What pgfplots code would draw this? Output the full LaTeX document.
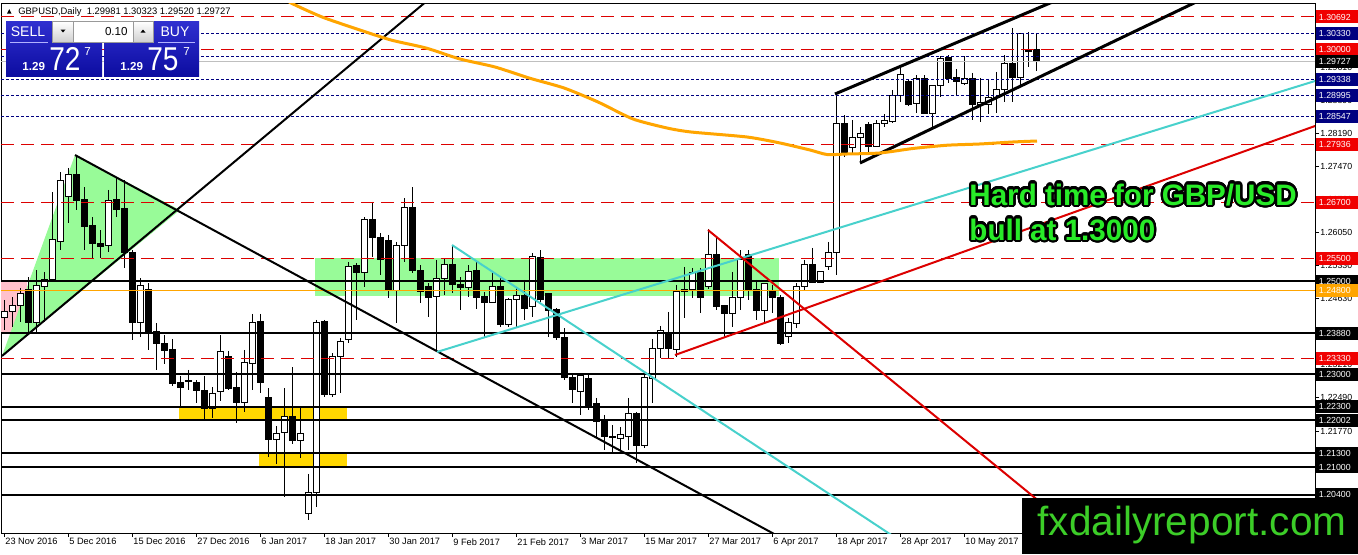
\documentclass[border=0pt]{standalone}
\usepackage{graphicx}
\usepackage{pgfplots}
\pgfplotsset{compat=1.18}
\usepackage{pgfplotstable}
\usepackage{fontspec}
\setmainfont{Liberation Sans}
\usepackage{contour}
\contourlength{1.1pt}
\contournumber{32}
\definecolor{mtred}{RGB}{220,0,0}
\definecolor{mtlab}{RGB}{240,0,0}
\definecolor{mtnavy}{RGB}{0,0,128}
\definecolor{mtcyan}{RGB}{72,209,204}
\definecolor{mtorange}{RGB}{255,165,0}
\definecolor{mtgreen}{RGB}{152,251,152}
\definecolor{mtgold}{RGB}{255,215,0}
\definecolor{mtpink}{RGB}{255,192,203}
\definecolor{txtgreen}{RGB}{40,235,40}
\definecolor{wmgreen}{RGB}{60,205,40}
\definecolor{pbA}{RGB}{48,48,208}
\definecolor{pbB}{RGB}{12,12,160}

\pgfplotstableread{
i o h l c
0 1.2421 1.2460 1.2395 1.2434
1 1.2434 1.2466 1.2401 1.2447
2 1.2447 1.2486 1.2412 1.2473
3 1.2483 1.2509 1.2389 1.2412
4 1.2412 1.2524 1.2389 1.2490
5 1.2488 1.2520 1.2412 1.2503
6 1.2503 1.2692 1.2500 1.2589
7 1.2585 1.2735 1.2567 1.2718
8 1.2682 1.2744 1.2626 1.2729
9 1.2729 1.2772 1.2654 1.2673
10 1.2677 1.2703 1.2567 1.2619
11 1.2621 1.2638 1.2550 1.2582
12 1.2582 1.2610 1.2550 1.2574
13 1.2576 1.2697 1.2563 1.2675
14 1.2677 1.2725 1.2638 1.2654
15 1.2656 1.2718 1.2529 1.2561
16 1.2563 1.2567 1.2374 1.2412
17 1.2412 1.2507 1.2380 1.2490
18 1.2483 1.2496 1.2352 1.2391
19 1.2391 1.2410 1.2309 1.2365
20 1.2365 1.2384 1.2322 1.2350
21 1.2352 1.2376 1.2275 1.2279
22 1.2281 1.2296 1.2227 1.2272
23 1.2287 1.2309 1.2266 1.2285
24 1.2283 1.2287 1.2238 1.2264
25 1.2264 1.2296 1.2201 1.2225
26 1.2225 1.2272 1.2206 1.2259
27 1.2262 1.2384 1.2242 1.2348
28 1.2337 1.2350 1.2266 1.2270
29 1.2272 1.2305 1.2195 1.2238
30 1.2238 1.2352 1.2218 1.2324
31 1.2322 1.2430 1.2266 1.2412
32 1.2414 1.2430 1.2259 1.2281
33 1.2249 1.2270 1.2122 1.2160
34 1.2160 1.2188 1.2106 1.2173
35 1.2175 1.2270 1.2035 1.2208
36 1.2208 1.2315 1.2150 1.2156
37 1.2158 1.2229 1.2119 1.2173
38 1.1999 1.2085 1.1986 1.2046
39 1.2044 1.2417 1.2014 1.2412
40 1.2414 1.2417 1.2251 1.2257
41 1.2257 1.2345 1.2251 1.2339
42 1.2339 1.2378 1.2259 1.2371
43 1.2374 1.2542 1.2367 1.2531
44 1.2533 1.2539 1.2417 1.2518
45 1.2518 1.2638 1.2488 1.2632
46 1.2632 1.2671 1.2552 1.2595
47 1.2595 1.2604 1.2514 1.2546
48 1.2587 1.2600 1.2464 1.2481
49 1.2481 1.2585 1.2410 1.2578
50 1.2578 1.2679 1.2542 1.2658
51 1.2658 1.2703 1.2518 1.2524
52 1.2524 1.2535 1.2453 1.2479
53 1.2488 1.2496 1.2423 1.2466
54 1.2468 1.2546 1.2348 1.2505
55 1.2505 1.2548 1.2470 1.2537
56 1.2537 1.2578 1.2475 1.2492
57 1.2494 1.2509 1.2438 1.2486
58 1.2486 1.2535 1.2466 1.2522
59 1.2524 1.2544 1.2440 1.2466
60 1.2468 1.2477 1.2380 1.2455
61 1.2455 1.2518 1.2453 1.2488
62 1.2488 1.2509 1.2401 1.2406
63 1.2406 1.2464 1.2401 1.2460
64 1.2460 1.2488 1.2401 1.2470
65 1.2470 1.2503 1.2417 1.2442
66 1.2445 1.2561 1.2423 1.2554
67 1.2552 1.2567 1.2455 1.2460
68 1.2473 1.2475 1.2380 1.2438
69 1.2440 1.2442 1.2374 1.2378
70 1.2378 1.2399 1.2287 1.2292
71 1.2292 1.2298 1.2238 1.2266
72 1.2262 1.2300 1.2212 1.2298
73 1.2290 1.2298 1.2223 1.2229
74 1.2236 1.2249 1.2165 1.2197
75 1.2201 1.2212 1.2137 1.2165
76 1.2166 1.2190 1.2132 1.2164
77 1.2162 1.2186 1.2137 1.2169
78 1.2165 1.2249 1.2137 1.2216
79 1.2216 1.2218 1.2109 1.2147
80 1.2147 1.2302 1.2141 1.2292
81 1.2290 1.2376 1.2238 1.2356
82 1.2356 1.2404 1.2335 1.2393
83 1.2386 1.2434 1.2335 1.2356
84 1.2354 1.2492 1.2337 1.2477
85 1.2479 1.2531 1.2421 1.2483
86 1.2483 1.2529 1.2464 1.2518
87 1.2518 1.2529 1.2432 1.2466
88 1.2488 1.2613 1.2483 1.2557
89 1.2557 1.2593 1.2438 1.2445
90 1.2447 1.2449 1.2378 1.2430
91 1.2430 1.2520 1.2401 1.2466
92 1.2466 1.2567 1.2438 1.2546
93 1.2557 1.2567 1.2460 1.2481
94 1.2483 1.2503 1.2417 1.2438
95 1.2438 1.2496 1.2412 1.2496
96 1.2477 1.2492 1.2432 1.2466
97 1.2466 1.2470 1.2363 1.2367
98 1.2382 1.2421 1.2367 1.2412
99 1.2410 1.2496 1.2399 1.2488
100 1.2488 1.2546 1.2481 1.2537
101 1.2537 1.2572 1.2496 1.2498
102 1.2498 1.2522 1.2496 1.2522
103 1.2531 1.2585 1.2524 1.2561
104 1.2561 1.2903 1.2514 1.2839
105 1.2839 1.2858 1.2768 1.2776
106 1.2789 1.2847 1.2776 1.2809
107 1.2809 1.2832 1.2757 1.2819
108 1.2837 1.2843 1.2778 1.2791
109 1.2791 1.2847 1.2789 1.2839
110 1.2839 1.2860 1.2832 1.2847
111 1.2845 1.2912 1.2841 1.2901
112 1.2901 1.2962 1.2886 1.2946
113 1.2931 1.2934 1.2878 1.2880
114 1.2882 1.2944 1.2862 1.2936
115 1.2936 1.2944 1.2860 1.2862
116 1.2862 1.2921 1.2832 1.2921
117 1.2921 1.2985 1.2897 1.2979
118 1.2983 1.2987 1.2927 1.2936
119 1.2938 1.2957 1.2899 1.2931
120 1.2927 1.2985 1.2923 1.2936
121 1.2936 1.2949 1.2847 1.2880
122 1.2880 1.2938 1.2843 1.2886
123 1.2880 1.2936 1.2860 1.2895
124 1.2895 1.2951 1.2862 1.2914
125 1.2912 1.2987 1.2886 1.2968
126 1.2968 1.3046 1.2886 1.2938
127 1.2938 1.3035 1.2923 1.3033
128 1.2994 1.3037 1.2962 1.2998
129 1.29981 1.30323 1.29520 1.29727
}\candles

\newcommand{\hlev}[2]{\addplot[#1] coordinates {(-0.375,#2) (163.875,#2)};}
\tikzset{plab/.style={anchor=west, fill=#1, text=white, inner xsep=1.5pt, inner ysep=0pt,
  minimum height=6.5pt, text width=18pt, align=left, font=\fontsize{4.4}{5}\selectfont, xshift=0.25pt}}

\begin{document}
\begin{tikzpicture}
\useasboundingbox (0,0) rectangle (679pt,-277pt);
\fill[white] (0,0) rectangle (679pt,-277pt);
\begin{axis}[
  at={(0.5pt,-266.5pt)}, anchor=south west,
  width=657pt, height=265pt, scale only axis,
  xmin=-0.375, xmax=163.875,
  ymin=1.19578, ymax=1.30993,
  clip mode=individual, no markers,
  axis line style={black, line width=0.5pt},
  xtick={0,8,...,120},
  xticklabels={23 Nov 2016,5 Dec 2016,15 Dec 2016,27 Dec 2016,6 Jan 2017,18 Jan 2017,30 Jan 2017,9 Feb 2017,21 Feb 2017,3 Mar 2017,15 Mar 2017,27 Mar 2017,6 Apr 2017,18 Apr 2017,28 Apr 2017,10 May 2017},
  xtick pos=bottom, ytick pos=right, tick align=outside,
  major tick length=2pt,
  tick style={black, line width=0.5pt},
  xticklabel style={anchor=north west, font=\fontsize{4.6}{5}\selectfont, inner sep=0pt, xshift=0.5pt, yshift=-0.5pt},
  ytick={1.29610,1.28890,1.28190,1.27470,1.26760,1.26050,1.25330,1.24630,1.23910,1.23210,1.22490,1.21770,1.21050,1.20330},
  yticklabel pos=right,
  scaled y ticks=false,
  yticklabel style={anchor=west, font=\fontsize{4.4}{5}\selectfont, inner sep=0pt, xshift=0.5pt,
     /pgf/number format/.cd, fixed, fixed zerofill, precision=5, assume math mode=true},
]
% background objects
\addplot[fill=mtpink, draw=none] coordinates {(-0.5,1.24984) (2.875,1.24984) (2.875,1.23886) (-0.5,1.23886)};
\addplot[fill=mtgreen, draw=none] coordinates {(8.875,1.27719) (22,1.26535) (-0.25,1.23391)};
\addplot[fill=mtgreen, draw=none] coordinates {(38.875,1.2550) (96.875,1.2550) (96.875,1.2469) (38.875,1.2469)};
\addplot[fill=mtgold, draw=none] coordinates {(21.875,1.2232) (42.875,1.2232) (42.875,1.2198) (21.875,1.2198)};
\addplot[fill=mtgold, draw=none] coordinates {(31.875,1.2130) (42.875,1.2130) (42.875,1.2098) (31.875,1.2098)};
% candles
\pgfplotsinvokeforeach{0,...,129}{%
  \pgfplotstablegetelem{#1}{o}\of\candles \let\vo\pgfplotsretval
  \pgfplotstablegetelem{#1}{h}\of\candles \let\vh\pgfplotsretval
  \pgfplotstablegetelem{#1}{l}\of\candles \let\vl\pgfplotsretval
  \pgfplotstablegetelem{#1}{c}\of\candles \let\vc\pgfplotsretval
  \ifdim\vc pt<\vo pt \def\vf{black}\else\def\vf{white}\fi
  \pgfmathsetmacro\xa{#1-0.375}\pgfmathsetmacro\xb{#1+0.375}
  \edef\candlecmd{%
    \noexpand\draw[black,line width=0.5pt] (axis cs:#1,\vh) -- (axis cs:#1,\vl);
    \noexpand\draw[black,line width=0.5pt,fill=\vf] (axis cs:\xa,\vo) rectangle (axis cs:\xb,\vc);
  }\candlecmd
}
% horizontal levels
\hlev{mtred, line width=0.5pt, dash pattern=on 6.5pt off 3.5pt}{1.30692}
\hlev{mtred, line width=0.5pt, dash pattern=on 6.5pt off 3.5pt}{1.30000}
\hlev{mtred, line width=0.5pt, dash pattern=on 6.5pt off 3.5pt}{1.27936}
\hlev{mtred, line width=0.5pt, dash pattern=on 6.5pt off 3.5pt}{1.26700}
\hlev{mtred, line width=0.5pt, dash pattern=on 6.5pt off 3.5pt}{1.25500}
\hlev{mtred, line width=0.5pt, dash pattern=on 6.5pt off 3.5pt}{1.23330}
\hlev{mtnavy, line width=0.5pt, dash pattern=on 1.25pt off 1.25pt}{1.30330}
\hlev{mtnavy, line width=0.5pt, dash pattern=on 1.25pt off 1.25pt}{1.29847}
\hlev{mtnavy, line width=0.5pt, dash pattern=on 1.25pt off 1.25pt}{1.29338}
\hlev{mtnavy, line width=0.5pt, dash pattern=on 1.25pt off 1.25pt}{1.28995}
\hlev{mtnavy, line width=0.5pt, dash pattern=on 1.25pt off 1.25pt}{1.28547}
\hlev{black!25, line width=0.5pt}{1.29727}
\hlev{mtorange, line width=0.5pt}{1.24800}
\hlev{black, line width=1pt}{1.25000}
\hlev{black, line width=1pt}{1.23880}
\hlev{black, line width=1pt}{1.23000}
\hlev{black, line width=1pt}{1.22300}
\hlev{black, line width=1pt}{1.22002}
\hlev{black, line width=1pt}{1.21300}
\hlev{black, line width=1pt}{1.21000}
\hlev{black, line width=1pt}{1.20400}
% trend lines
\addplot[black, line width=1pt] coordinates {(-0.25,1.23391) (54.5,1.31273)};
\addplot[black, line width=1pt] coordinates {(8.875,1.27719) (99.5,1.19255)};
\addplot[mtcyan, line width=1pt] coordinates {(56,1.25781) (112,1.19412)};
\addplot[mtcyan, line width=1pt] coordinates {(54.125,1.23477) (163.875,1.29313)};
\addplot[mtred, line width=1pt] coordinates {(88,1.26104) (129.5,1.20246)};
\addplot[mtred, line width=1pt] coordinates {(83.875,1.23412) (163.875,1.28344)};
\addplot[black, line width=1.5pt] coordinates {(103.875,1.29033) (135,1.31302)};
\addplot[black, line width=1.5pt] coordinates {(107,1.27547) (150,1.31096)};
% moving average
\addplot[mtorange, line width=1.5pt, smooth, tension=0.4] coordinates {
 (35.125,1.31101) (35.875,1.30993) (39.75,1.30692) (44.125,1.30433) (48.375,1.30196)
 (52.75,1.30024) (57,1.29787) (61.375,1.29615) (65.625,1.29378) (70,1.29163)
 (74.25,1.28861) (78.625,1.28495) (82.875,1.28301) (85.875,1.28215) (92.875,1.28107)
 (97,1.27978) (100.75,1.27827) (102.875,1.27730) (105.375,1.27741) (109.5,1.27763)
 (113.625,1.27860) (117.875,1.27930) (122,1.27957) (126.125,1.28000) (129.125,1.28021)};
% right price labels
\node[plab=mtnavy] at (axis cs:163.875,1.30330) {1.30330};
\node[plab=mtnavy] at (axis cs:163.875,1.29338) {1.29338};
\node[plab=mtnavy] at (axis cs:163.875,1.28995) {1.28995};
\node[plab=mtnavy] at (axis cs:163.875,1.28547) {1.28547};
\node[plab=mtnavy] at (axis cs:163.875,1.29847) {1.29847};
\node[plab=mtlab] at (axis cs:163.875,1.30692) {1.30692};
\node[plab=mtlab] at (axis cs:163.875,1.30000) {1.30000};
\node[plab=mtlab] at (axis cs:163.875,1.27936) {1.27936};
\node[plab=mtlab] at (axis cs:163.875,1.26700) {1.26700};
\node[plab=mtlab] at (axis cs:163.875,1.25500) {1.25500};
\node[plab=mtlab] at (axis cs:163.875,1.23330) {1.23330};
\node[plab=black] at (axis cs:163.875,1.25000) {1.25000};
\node[plab=mtorange] at (axis cs:163.875,1.24800) {1.24800};
\node[plab=black] at (axis cs:163.875,1.23880) {1.23880};
\node[plab=black] at (axis cs:163.875,1.23000) {1.23000};
\node[plab=black] at (axis cs:163.875,1.22300) {1.22300};
\node[plab=black] at (axis cs:163.875,1.22002) {1.22002};
\node[plab=black] at (axis cs:163.875,1.21300) {1.21300};
\node[plab=black] at (axis cs:163.875,1.21000) {1.21000};
\node[plab=black] at (axis cs:163.875,1.20400) {1.20400};
\node[plab=black] at (axis cs:163.875,1.29727) {1.29727};
\end{axis}
\begin{scope}[x=0.5pt,y=-0.5pt]
 % chart title
 \fill[black] (7,13.5) -- (11.5,13.5) -- (9.25,9) -- cycle;
 \node[anchor=base west, inner sep=0, font=\fontsize{4.7}{5}\selectfont] at (18,14.5) {GBPUSD,Daily\ \ 1.29981 1.30323 1.29520 1.29727};
 % one click trading panel
 \shade[top color=pbA, bottom color=pbB] (6,21) rectangle (102,76);
 \shade[top color=pbA, bottom color=pbB] (104,21) rectangle (199,76);
 \fill[white] (52,20.5) rectangle (154,42.5);
 \shade[top color=white, bottom color=black!18] (53,21.5) rectangle (73,41.5);
 \shade[top color=white, bottom color=black!18] (133,21.5) rectangle (153,41.5);
 \draw[black!40, line width=0.5pt] (52.5,21) rectangle (153.5,42);
 \draw[black!40, line width=0.5pt] (73,21) -- (73,42) (133,21) -- (133,42);
 \fill[black] (60.5,29.5) -- (65.5,29.5) -- (63,32.5) -- cycle;
 \fill[black] (140.5,32.5) -- (145.5,32.5) -- (143,29.5) -- cycle;
 \node[anchor=base east, inner sep=0, font=\fontsize{5.8}{6}\selectfont] at (128,35) {0.10};
 \draw[white!70!blue, line width=0.5pt] (10,42) -- (48,42) (158,42) -- (195,42);
 \node[anchor=base, inner sep=0, text=white, font=\fontsize{7}{8}\selectfont] at (28,36) {SELL};
 \node[anchor=base, inner sep=0, text=white, font=\fontsize{7}{8}\selectfont] at (175,36) {BUY};
 \node[anchor=base west, inner sep=0, text=white, font=\bfseries\fontsize{5.8}{6}\selectfont] at (22,70) {1.29};
 \node[anchor=base west, inner sep=0, text=white, font=\fontsize{16.5}{17}\selectfont] at (49,70) {\scalebox{0.85}[1]{72}};
 \node[anchor=base west, inner sep=0, text=white, font=\fontsize{5.8}{6}\selectfont] at (84,55) {7};
 \node[anchor=base west, inner sep=0, text=white, font=\bfseries\fontsize{5.8}{6}\selectfont] at (120,70) {1.29};
 \node[anchor=base west, inner sep=0, text=white, font=\fontsize{16.5}{17}\selectfont] at (147,70) {\scalebox{0.85}[1]{75}};
 \node[anchor=base west, inner sep=0, text=white, font=\fontsize{5.8}{6}\selectfont] at (183,55) {7};
 % comment text
 \node[anchor=base west, inner sep=0, text=txtgreen, font=\bfseries\fontsize{14.8}{16}\selectfont] at (969,205) {\contour{black}{Hard time for GBP/USD}};
 \node[anchor=base west, inner sep=0, text=txtgreen, font=\bfseries\fontsize{14.8}{16}\selectfont] at (969,240) {\contour{black}{bull at 1.3000}};
 % watermark
 \fill[black] (1022,498) rectangle (1358,554);
 \node[anchor=base west, inner sep=0, text=wmgreen, font=\fontsize{20.3}{22}\selectfont] at (1037,535) {fxdailyreport.com};
\end{scope}
\end{tikzpicture}
\end{document}
